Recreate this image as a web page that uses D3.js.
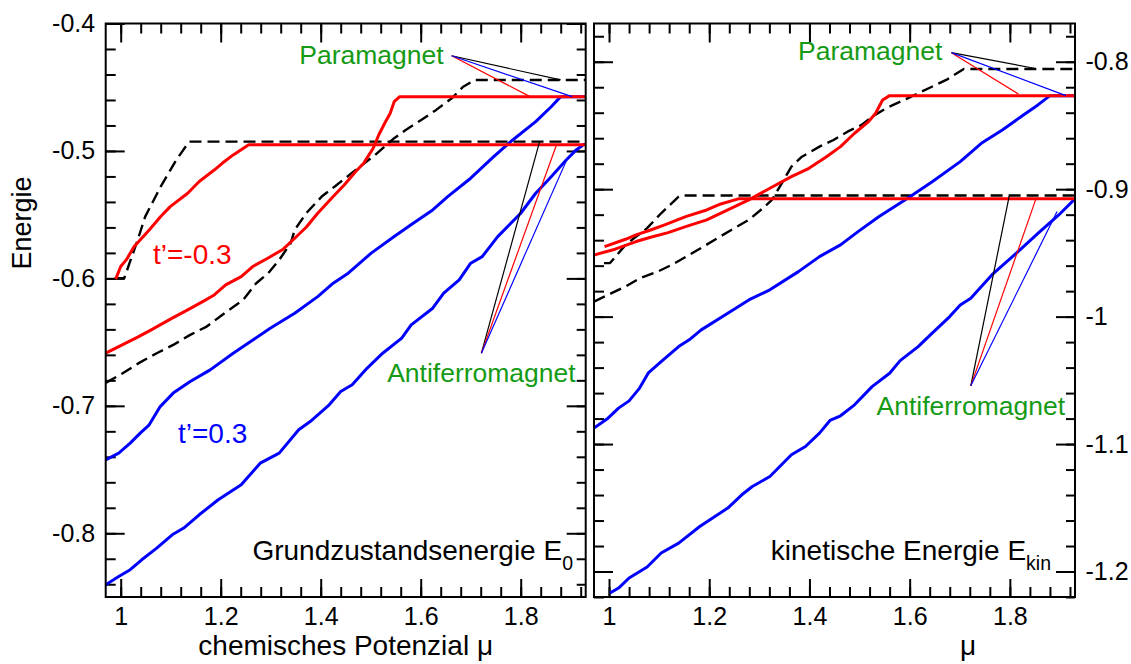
<!DOCTYPE html>
<html><head><meta charset="utf-8">
<script src="https://cdn.jsdelivr.net/npm/d3@7"></script>
<style>
html,body{margin:0;padding:0;background:#fff;}
svg text{font-family:"Liberation Sans",Arial,Helvetica,sans-serif;}
</style></head><body>
<svg id="chart" width="1131" height="664"></svg>
<script>
// ---------- tick labels / domains ----------
const muTicks = [1, 1.2, 1.4, 1.6, 1.8];
const e0Ticks = [-0.8, -0.7, -0.6, -0.5, -0.4];
const ekinTicks = [-1.2, -1.1, -1, -0.9, -0.8];
const muDomain = [0.97, 1.93];
const e0Domain = [-0.85, -0.4];
const ekinDomain = [-1.22, -0.77];

// ---------- Grundzustandsenergie E0 (left) ----------
const e0RedAF = [[0.990,-0.6006],[1.000,-0.5907],[1.011,-0.5855],[1.027,-0.575],[1.042,-0.5685],[1.057,-0.562],[1.080,-0.5515],[1.099,-0.5437],[1.134,-0.5332],[1.157,-0.524],[1.187,-0.515],[1.203,-0.5097],[1.225,-0.5031],[1.256,-0.4951],[1.93,-0.4951]];
const e0RedPM = [[0.970,-0.6587],[0.996,-0.6535],[1.034,-0.6461],[1.061,-0.6404],[1.103,-0.6312],[1.134,-0.6247],[1.164,-0.6182],[1.187,-0.613],[1.210,-0.6051],[1.241,-0.5986],[1.264,-0.5907],[1.294,-0.5842],[1.325,-0.5771],[1.348,-0.5685],[1.371,-0.5599],[1.394,-0.5489],[1.425,-0.5358],[1.447,-0.5267],[1.470,-0.5162],[1.486,-0.5096],[1.505,-0.4979],[1.516,-0.4875],[1.528,-0.4783],[1.539,-0.4704],[1.547,-0.4613],[1.558,-0.4574],[1.93,-0.4574]];
const e0BlackAF = [[0.988,-0.5999],[1.007,-0.5999],[1.034,-0.5698],[1.049,-0.5515],[1.080,-0.528],[1.111,-0.5071],[1.137,-0.4927],[1.93,-0.4927]];
const e0BlackPM = [[0.970,-0.6820],[1.004,-0.6744],[1.036,-0.6665],[1.072,-0.6587],[1.105,-0.6522],[1.139,-0.6443],[1.172,-0.6378],[1.212,-0.626],[1.245,-0.6169],[1.271,-0.6038],[1.295,-0.5959],[1.317,-0.5855],[1.340,-0.5724],[1.348,-0.562],[1.371,-0.5489],[1.402,-0.5358],[1.432,-0.5267],[1.470,-0.5149],[1.509,-0.5031],[1.547,-0.49],[1.570,-0.4835],[1.601,-0.4757],[1.631,-0.4678],[1.662,-0.4587],[1.685,-0.4496],[1.708,-0.4443],[1.93,-0.4443]];
const e0BluePM = [[0.970,-0.7424],[0.996,-0.7371],[1.019,-0.7293],[1.039,-0.7214],[1.057,-0.7149],[1.079,-0.7006],[1.105,-0.69],[1.139,-0.6809],[1.179,-0.6718],[1.225,-0.6587],[1.265,-0.6482],[1.299,-0.6391],[1.348,-0.6273],[1.394,-0.6143],[1.425,-0.6038],[1.455,-0.5959],[1.501,-0.5802],[1.547,-0.5672],[1.585,-0.5567],[1.624,-0.5463],[1.654,-0.5358],[1.700,-0.5214],[1.746,-0.5045],[1.784,-0.4914],[1.830,-0.477],[1.861,-0.4653],[1.880,-0.4574],[1.93,-0.4574]];
const e0BlueAF = [[0.970,-0.8404],[0.996,-0.8339],[1.019,-0.8286],[1.042,-0.8208],[1.072,-0.8116],[1.103,-0.8012],[1.126,-0.7959],[1.157,-0.7855],[1.195,-0.7737],[1.241,-0.762],[1.279,-0.745],[1.317,-0.7371],[1.356,-0.7188],[1.379,-0.7123],[1.417,-0.6992],[1.440,-0.6888],[1.463,-0.6835],[1.493,-0.6704],[1.524,-0.6587],[1.562,-0.6469],[1.581,-0.6365],[1.624,-0.6234],[1.646,-0.6116],[1.677,-0.6012],[1.700,-0.5881],[1.723,-0.5829],[1.754,-0.5672],[1.800,-0.5489],[1.830,-0.5332],[1.861,-0.5202],[1.891,-0.5071],[1.911,-0.4992],[1.926,-0.4950],[1.93,-0.4950]];

// ---------- kinetische Energie Ekin (right) ----------
const ekRedAF = [[0.991,-0.9451],[1.033,-0.9393],[1.054,-0.9359],[1.083,-0.932],[1.111,-0.928],[1.153,-0.9215],[1.195,-0.9163],[1.223,-0.9116],[1.258,-0.9076],[1.93,-0.9076]];
const ekRedPM = [[0.970,-0.9516],[1.012,-0.9471],[1.054,-0.9411],[1.083,-0.9377],[1.118,-0.9341],[1.153,-0.9294],[1.195,-0.9241],[1.237,-0.9163],[1.279,-0.9084],[1.321,-0.8993],[1.364,-0.8902],[1.399,-0.8836],[1.434,-0.8745],[1.462,-0.8666],[1.490,-0.8561],[1.518,-0.847],[1.532,-0.8404],[1.546,-0.83],[1.560,-0.8266],[1.93,-0.8266]];
const ekBlackAF = [[0.990,-0.958],[1.002,-0.958],[1.033,-0.9437],[1.076,-0.9306],[1.104,-0.9189],[1.139,-0.9058],[1.145,-0.905],[1.93,-0.905]];
const ekBlackPM = [[0.970,-0.9882],[1.005,-0.9816],[1.033,-0.9764],[1.061,-0.9699],[1.097,-0.9647],[1.125,-0.9594],[1.160,-0.9516],[1.188,-0.9451],[1.216,-0.9385],[1.244,-0.932],[1.279,-0.9241],[1.307,-0.915],[1.325,-0.9084],[1.343,-0.8967],[1.364,-0.8823],[1.385,-0.8745],[1.420,-0.8666],[1.448,-0.8614],[1.476,-0.8549],[1.504,-0.8496],[1.525,-0.8431],[1.553,-0.8365],[1.596,-0.8287],[1.638,-0.8208],[1.673,-0.8143],[1.708,-0.8057],[1.93,-0.8057]];
const ekBluePM = [[0.970,-1.0875],[0.998,-1.0797],[1.019,-1.0718],[1.040,-1.0661],[1.061,-1.0561],[1.079,-1.0439],[1.104,-1.0353],[1.139,-1.0235],[1.160,-1.0182],[1.184,-1.0104],[1.237,-0.9973],[1.279,-0.9869],[1.321,-0.979],[1.378,-0.9647],[1.420,-0.9529],[1.462,-0.9437],[1.497,-0.9333],[1.539,-0.9215],[1.596,-0.9071],[1.645,-0.8941],[1.701,-0.8784],[1.743,-0.864],[1.785,-0.8535],[1.827,-0.8418],[1.856,-0.8339],[1.880,-0.8266],[1.93,-0.8266]];
const ekBlueAF = [[1.002,-1.2169],[1.019,-1.213],[1.040,-1.2051],[1.076,-1.1965],[1.104,-1.1855],[1.139,-1.1777],[1.181,-1.1647],[1.237,-1.1502],[1.265,-1.1398],[1.286,-1.1333],[1.321,-1.1255],[1.364,-1.1084],[1.392,-1.1019],[1.420,-1.0914],[1.441,-1.0815],[1.462,-1.0778],[1.490,-1.0692],[1.525,-1.0549],[1.560,-1.0444],[1.581,-1.0345],[1.617,-1.0235],[1.645,-1.013],[1.680,-1.0],[1.701,-0.9908],[1.722,-0.9855],[1.764,-0.9673],[1.813,-0.9502],[1.856,-0.9346],[1.901,-0.9189],[1.929,-0.908]];

// ---------- annotation pointers: apex, then ends (black, red, blue) ----------
const e0PMApex = [1.662,-0.4253];
const e0PMEnds = [[1.880,-0.4443],[1.8186,-0.4574],[1.9028,-0.4574]];
const e0AFApex = [1.7214,-0.6587];
const e0AFEnds = [[1.8378,-0.4927],[1.8722,-0.4945],[1.8914,-0.5076]];
const ekPMApex = [1.6834,-0.7929];
const ekPMEnds = [[1.8486,-0.8051],[1.817,-0.8253],[1.9118,-0.8266]];
const ekAFApex = [1.722,-1.0543];
const ekAFEnds = [[1.7988,-0.9053],[1.852,-0.9076],[1.8942,-0.9176]];

// ---------- drawing ----------
const svg = d3.select("#chart");
const RED = "#ff0000", BLUE = "#0000ff", BLACK = "#000000", GREEN = "#159a15";
const TOP = 23.5, BOT = 597;
const fmt = d => String(d);

function panel(id, x0, x1, yDomain, yTicks, labelSide, series, pointers) {
  const x = d3.scaleLinear().domain(muDomain).range([x0, x1]);
  const y = d3.scaleLinear().domain(yDomain).range([BOT, TOP]);
  const g = svg.append("g");
  g.append("clipPath").attr("id", "clip" + id)
    .append("rect").attr("x", x0).attr("y", TOP).attr("width", x1 - x0).attr("height", BOT - TOP);

  const minorX = d3.range(0.96, 1.94, 0.04).map(v => +v.toFixed(2)).filter(v => v >= muDomain[0] && v <= muDomain[1]);
  const minorY = d3.range(Math.ceil(yDomain[0] * 50) / 50, yDomain[1] + 1e-9, 0.02).map(v => +v.toFixed(2));

  function axisGroup(axis, tx, ty, withLabels) {
    const a = g.append("g").attr("transform", `translate(${tx},${ty})`).call(axis);
    a.select(".domain").remove();
    a.selectAll("line").attr("stroke", "#000").attr("stroke-width", 2);
    a.selectAll("text").attr("font-size", 25).attr("fill", "#000")
      .style("font-family", '"Liberation Sans",Arial,sans-serif');
    if (!withLabels) a.selectAll("text").remove();
    return a;
  }
  // bottom
  axisGroup(d3.axisBottom(x).tickValues(minorX).tickSize(-10).tickFormat(""), 0, BOT, false);
  axisGroup(d3.axisBottom(x).tickValues(muTicks).tickSize(-18).tickPadding(10).tickFormat(fmt), 0, BOT, true);
  // top
  axisGroup(d3.axisTop(x).tickValues(minorX).tickSize(-10).tickFormat(""), 0, TOP, false);
  axisGroup(d3.axisTop(x).tickValues(muTicks).tickSize(-19).tickFormat(""), 0, TOP, false);
  // left
  axisGroup(d3.axisLeft(y).tickValues(minorY).tickSize(-10).tickFormat(""), x0, 0, false);
  axisGroup(d3.axisLeft(y).tickValues(yTicks).tickSize(-19).tickPadding(10.5).tickFormat(fmt), x0, 0, labelSide === "left");
  // right
  axisGroup(d3.axisRight(y).tickValues(minorY).tickSize(-9).tickFormat(""), x1, 0, false);
  axisGroup(d3.axisRight(y).tickValues(yTicks).tickSize(-19).tickPadding(10.5).tickFormat(fmt), x1, 0, labelSide === "right");

  const line = d3.line().x(d => x(d[0])).y(d => y(d[1]));
  const plot = g.append("g").attr("clip-path", `url(#clip${id})`);
  series.forEach(s => {
    plot.append("path").datum(s.data).attr("d", line)
      .attr("fill", "none").attr("stroke", s.color)
      .attr("stroke-width", s.dash ? 2.4 : 3)
      .attr("stroke-dasharray", s.dash ? "12,6" : null)
      .attr("stroke-linejoin", "round");
  });
  const colors = [BLACK, RED, BLUE];
  pointers.forEach(p => {
    p.ends.forEach((e, i) => {
      g.append("line").attr("x1", x(p.apex[0])).attr("y1", y(p.apex[1]))
        .attr("x2", x(e[0])).attr("y2", y(e[1]))
        .attr("stroke", colors[i]).attr("stroke-width", 1.2);
    });
  });
  g.append("rect").attr("x", x0).attr("y", TOP).attr("width", x1 - x0).attr("height", BOT - TOP)
    .attr("fill", "none").attr("stroke", "#000").attr("stroke-width", 2);
  return {x, y, g};
}

const L = panel("L", 105.7, 585.7, e0Domain, e0Ticks, "left", [
  {data: e0BlackPM, color: BLACK, dash: true},
  {data: e0BlackAF, color: BLACK, dash: true},
  {data: e0BluePM, color: BLUE},
  {data: e0BlueAF, color: BLUE},
  {data: e0RedPM, color: RED},
  {data: e0RedAF, color: RED}
], [{apex: e0PMApex, ends: e0PMEnds}, {apex: e0AFApex, ends: e0AFEnds}]);

const R = panel("R", 594, 1075, ekinDomain, ekinTicks, "right", [
  {data: ekBlackPM, color: BLACK, dash: true},
  {data: ekBlackAF, color: BLACK, dash: true},
  {data: ekBluePM, color: BLUE},
  {data: ekBlueAF, color: BLUE},
  {data: ekRedPM, color: RED},
  {data: ekRedAF, color: RED}
], [{apex: ekPMApex, ends: ekPMEnds}, {apex: ekAFApex, ends: ekAFEnds}]);

// annotation texts
function txt(xp, yp, s, size, color, anchor) {
  return svg.append("text").attr("x", xp).attr("y", yp).attr("font-size", size)
    .attr("fill", color).attr("text-anchor", anchor || "start").text(s);
}
txt(L.x(e0PMApex[0]) - 8, L.y(e0PMApex[1]) + 8, "Paramagnet", 26.5, GREEN, "end");
txt(R.x(ekPMApex[0]) - 9, R.y(ekPMApex[1]) + 7, "Paramagnet", 26.5, GREEN, "end");
txt(L.x(e0AFApex[0]), L.y(e0AFApex[1]) + 29, "Antiferromagnet", 26.5, GREEN, "middle");
txt(R.x(ekAFApex[0]), R.y(ekAFApex[1]) + 29, "Antiferromagnet", 26.5, GREEN, "middle");
txt(153, 264, "t’=-0.3", 28, RED);
txt(178, 443, "t’=0.3", 28, BLUE);

const t1 = txt(573, 560, "Grundzustandsenergie E", 28, "#000", "end");
t1.append("tspan").attr("dy", 10).attr("font-size", 19.5).text("0");
const t2 = txt(1051, 560, "kinetische Energie E", 28, "#000", "end");
t2.append("tspan").attr("dy", 10).attr("font-size", 19.5).text("kin");

txt(345.7, 655, "chemisches Potenzial μ", 28, "#000", "middle");
txt(968, 655, "μ", 28, "#000", "middle");
svg.append("text").attr("transform", "translate(31,223) rotate(-90)")
  .attr("font-size", 27).attr("text-anchor", "middle").attr("fill", "#000").text("Energie");
</script>
</body></html>
